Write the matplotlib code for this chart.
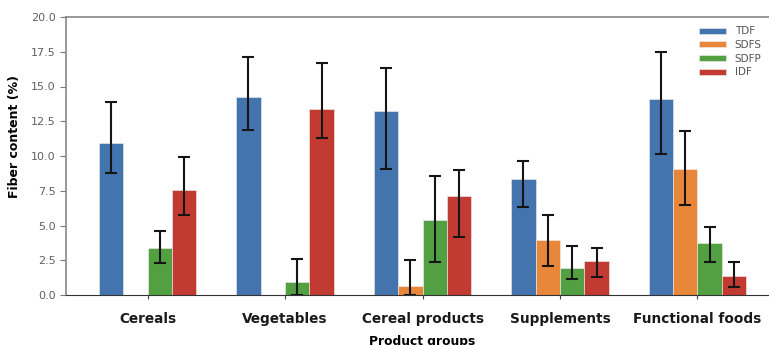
import numpy as np
import matplotlib.pyplot as plt

# Fiber fractions by product group (mean, with lower/upper error extents)
groups = ['Cereals', 'Vegetables', 'Cereal products', 'Supplements', 'Functional foods']
fractions = ['TDF', 'SDFS', 'SDFP', 'IDF']

tdf = [10.9, 14.27, 13.24, 8.32, 14.12]
sdfs = [0.0, 0.0, 0.67, 3.98, 9.09]
sdfp = [3.36, 0.96, 5.42, 1.92, 3.72]
idf = [7.55, 13.36, 7.14, 2.45, 1.37]

# error bar ends (low, high)
tdf_lo = [8.8, 11.87, 9.09, 6.31, 10.12]
tdf_hi = [13.9, 17.1, 16.3, 9.66, 17.5]
sdfs_lo = [0.0, 0.0, 0.0, 2.11, 6.5]
sdfs_hi = [0.0, 0.0, 2.5, 5.78, 11.78]
sdfp_lo = [2.33, 0.0, 2.37, 1.13, 2.37]
sdfp_hi = [4.63, 2.59, 8.54, 3.5, 4.87]
idf_lo = [5.76, 11.32, 4.17, 1.32, 0.6]
idf_hi = [9.9, 16.69, 8.97, 3.4, 2.37]

values = [tdf, sdfs, sdfp, idf]
lows = [tdf_lo, sdfs_lo, sdfp_lo, idf_lo]
highs = [tdf_hi, sdfs_hi, sdfp_hi, idf_hi]
colors = ['#4474ae', '#e8873a', '#53a042', '#c23b33']

fig = plt.figure(figsize=(7.69, 3.45), dpi=100)
ax = fig.add_axes([66 / 769, 50 / 345, 713 / 769, 278 / 345])

x = np.arange(len(groups))
w = 0.178
for i, (vals, lo, hi, c, lab) in enumerate(zip(values, lows, highs, colors, fractions)):
    vals = np.array(vals)
    err = [vals - np.array(lo), np.array(hi) - vals]
    show = np.array(hi) > 0
    pos = x + (i - 1.5) * w
    ax.bar(pos, vals, w, color=c, label=lab, edgecolor='#f0f0f0', linewidth=0.4)
    ax.errorbar(pos[show], vals[show], yerr=[e[show] for e in err], fmt='none',
                ecolor='#151515', elinewidth=1.5, capsize=4.5, capthick=1.5)

ax.set_xlim(-0.593, 4.593)
ax.set_ylim(0, 20)
ax.set_yticks(np.arange(0, 20.1, 2.5))
ax.set_yticklabels([f'{v:.1f}' for v in np.arange(0, 20.1, 2.5)], color='#606060', fontsize=8)
ax.set_xticks(x)
ax.set_xticklabels(groups, fontsize=9.8, fontweight='bold', color='#1a1a1a')
ax.tick_params(axis='x', length=3, pad=9, color='#444444')
ax.tick_params(axis='y', length=4, color='#777777')

for s in ['left', 'top']:
    ax.spines[s].set_color('#888888')
    ax.spines[s].set_linewidth(1.2)
ax.spines['bottom'].set_color('#333333')
ax.spines['right'].set_visible(False)

ax.set_ylabel('Fiber content (%)', fontsize=9, fontweight='bold')
ax.yaxis.set_label_coords(-0.063, 0.57)
ax.set_xlabel('Product groups', fontsize=8.8, fontweight='bold', labelpad=7)

ax.legend(loc='upper left', bbox_to_anchor=(0.875, 1.0), frameon=False, fontsize=7.5,
          handlelength=2.6, handleheight=0.5, labelspacing=0.35, labelcolor='#555555')

fig.savefig('out.png', dpi=100)
